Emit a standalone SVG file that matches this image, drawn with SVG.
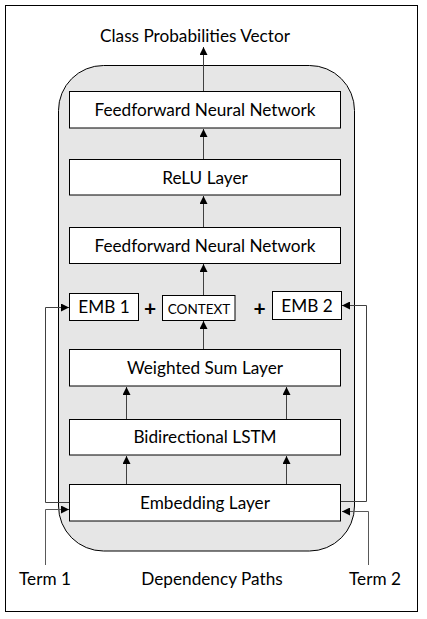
<svg xmlns="http://www.w3.org/2000/svg" width="427" height="619" viewBox="0 0 427 619">
<defs>
<marker id="ah" markerWidth="8" markerHeight="8" viewBox="0 0 8 8" refX="8" refY="4" orient="auto" markerUnits="userSpaceOnUse">
<path d="M0,0 L8,4 L0,8 Z" fill="#000"/>
</marker>
<style>
text{font-family:Lato,"Liberation Sans",sans-serif;fill:#000;text-anchor:middle}
.lbl{font-size:17.2px}
.plus{font-size:21px;font-weight:bold}
.box{fill:#fff;stroke:#000;stroke-width:1}
.c{fill:none;stroke:#404040;stroke-width:1;marker-end:url(#ah)}
.t{fill:none;stroke:#595959;stroke-width:1;marker-end:url(#ah)}
</style>
</defs>
<rect x="0" y="0" width="427" height="619" fill="#fff"/>
<rect id="frame" x="5.5" y="5.5" width="412" height="606" fill="#fff" stroke="#000" stroke-width="1"/>
<g id="container"><rect x="58.5" y="65.5" width="296" height="485.5" rx="45" ry="45" fill="#e6e6e6" stroke="#000" stroke-width="1"/></g>

<g id="connectors">
<path class="c" d="M203.5,91 V47"/>
<path class="c" d="M203.5,227 V196"/>
<path class="c" d="M203.5,160 V129"/>
<path class="c" d="M203.5,295 V264"/>
<path class="c" d="M203.5,349 V321"/>
<path class="c" d="M126.5,419 V387"/>
<path class="c" d="M286.5,419 V387"/>
<path class="c" d="M126.5,484 V456"/>
<path class="c" d="M286.5,484 V456"/>
<path class="c" d="M69.5,502.5 H45.5 V307.5 H69"/>
<path class="c" d="M340.5,501.5 H366.5 V305.5 H342"/>
<path class="t" d="M45.5,565 V509.5 H69"/>
<path class="t" d="M368.5,565 V511.5 H342"/>
</g>

<g id="n-ffnn-top"><rect class="box" x="69.5" y="91.5" width="271" height="36.5"/><text class="lbl" x="205" y="115.5">Feedforward Neural Network</text></g>
<g id="n-relu"><rect class="box" x="69.5" y="159.5" width="271" height="35.5"/><text class="lbl" x="205" y="183.5">ReLU Layer</text></g>
<g id="n-ffnn"><rect class="box" x="69.5" y="227.5" width="271" height="36"/><text class="lbl" x="205" y="251.5">Feedforward Neural Network</text></g>
<g id="n-emb1"><rect class="box" x="69.5" y="293.5" width="69" height="27"/><text class="lbl" x="104" y="312.5">EMB 1</text></g>
<g id="n-plus1"><text class="plus" x="150" y="315.5">+</text></g>
<g id="n-context"><rect class="box" x="162.5" y="295.5" width="72.5" height="25"/><text x="199" y="313.5" style="font-size:13.5px">CONTEXT</text></g>
<g id="n-plus2"><text class="plus" x="259.5" y="315.5">+</text></g>
<g id="n-emb2"><rect class="box" x="272.5" y="291.5" width="69" height="28"/><text class="lbl" x="307" y="311.5">EMB 2</text></g>
<g id="n-wsum"><rect class="box" x="69.5" y="349.5" width="271" height="36.5"/><text class="lbl" x="205" y="373.5">Weighted Sum Layer</text></g>
<g id="n-bilstm"><rect class="box" x="69.5" y="419.5" width="271" height="35.5"/><text class="lbl" x="205" y="442.5">Bidirectional LSTM</text></g>
<g id="n-embed"><rect class="box" x="69.5" y="484.5" width="271" height="36.5"/><text class="lbl" x="205" y="508.5">Embedding Layer</text></g>

<g id="n-out"><text class="lbl" x="195" y="42">Class Probabilities Vector</text></g>
<g id="n-term1"><text class="lbl" x="45" y="584.5">Term 1</text></g>
<g id="n-deps"><text class="lbl" x="212" y="584.5">Dependency Paths</text></g>
<g id="n-term2"><text class="lbl" x="375" y="584.5">Term 2</text></g>
</svg>
